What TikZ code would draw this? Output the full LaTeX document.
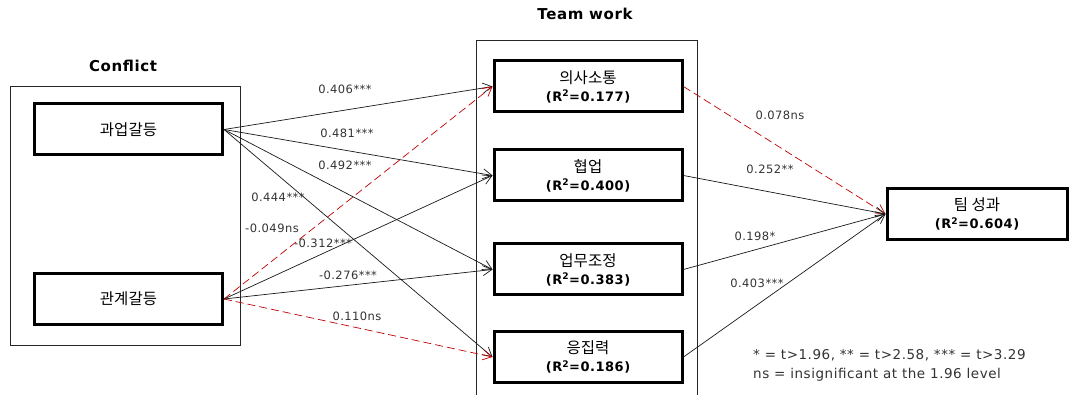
\documentclass[tikz,border=0pt]{standalone}
\usepackage{fontspec}
\setmainfont{Noto Sans CJK KR}
\newfontfamily\latin{DejaVu Sans}[LetterSpace=4]
\usetikzlibrary{arrows.meta}

\begin{document}
\begin{tikzpicture}[x=1pt,y=-1pt,
  var/.style={draw,line width=3pt,minimum width=188pt,minimum height=51pt,
    align=center,font=\fontsize{15.5}{18}\selectfont},
  grp/.style={draw=black!85,line width=0.8pt},
  head/.style={font=\latin\bfseries\fontsize{15}{17}\selectfont},
  sig/.style={->,black!90,line width=0.7pt},
  nsig/.style={->,red!75!black,dash pattern=on 8pt off 4pt,line width=0.7pt},
  coef/.style={font=\latin\fontsize{11.5}{19}\selectfont,text=black!80,inner sep=1pt},
  >={Straight Barb[length=9pt,width=10pt]}]
  \useasboundingbox (0,0) rectangle (1071,395);
  \def\rsq#1{{\latin\bfseries\fontsize{13}{15}\selectfont(R\textsuperscript{2}=#1)}}

  % groups
  \draw[grp] (10,86) rectangle (240,345);
  \draw[grp] (476,395) -- (476,40) -- (697,40) -- (697,395);
  \node[head] (conflict) at (123,66) {Conflict};
  \node[head] (teamwork) at (585,14) {Team work};

  % variables
  \node[var] (task) at (128.5,129.5) {과업갈등};
  \node[var] (rel) at (128.5,299) {관계갈등};
  \node[var] (comm) at (588,86.5) {의사소통\\\rsq{0.177}};
  \node[var] (coop) at (588,175.5) {협업\\\rsq{0.400}};
  \node[var] (coord) at (588,269.5) {업무조정\\\rsq{0.383}};
  \node[var] (coh) at (588,357) {응집력\\\rsq{0.186}};
  \node[var,minimum width=180pt] (perf) at (977,214) {팀 성과\\\rsq{0.604}};

  % paths
  \foreach \a/\b/\s in {task/comm/sig, task/coop/sig, task/coord/sig, task/coh/sig,
    rel/comm/nsig, rel/coop/sig, rel/coord/sig, rel/coh/nsig,
    comm/perf/nsig, coop/perf/sig, coord/perf/sig, coh/perf/sig}
    \draw[\s] (\a.east) -- (\b.west);

  % coefficients
  \node[coef] (c1) at (345,89) {0.406***};
  \node[coef] (c2) at (347,133) {0.481***};
  \node[coef] (c3) at (345,165) {0.492***};
  \node[coef] (c4) at (278,197) {0.444***};
  \node[coef] (c5) at (272,228) {-0.049ns};
  \node[coef] (c6) at (323,243) {-0.312***};
  \node[coef] (c7) at (348,275) {-0.276***};
  \node[coef] (c8) at (357,316) {0.110ns};
  \node[coef] (c9) at (780,115) {0.078ns};
  \node[coef] (c10) at (770,169) {0.252**};
  \node[coef] (c11) at (755,236) {0.198*};
  \node[coef] (c12) at (757,283) {0.403***};

  % legend
  \node[coef,anchor=west,align=left,font=\latin\fontsize{13.5}{19}\selectfont] (note) at (752,365)
    {* = t>1.96, ** = t>2.58, *** = t>3.29\\ns = insignificant at the 1.96 level};
\end{tikzpicture}
\end{document}
